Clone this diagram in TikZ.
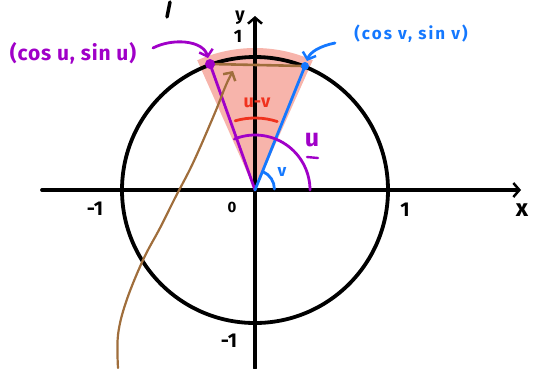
\documentclass[tikz,border=0pt]{standalone}
\usepackage{fontspec}
\setmainfont{Fira Sans}
\usetikzlibrary{arrows.meta,calc}
\definecolor{cpurple}{RGB}{160,0,200}
\definecolor{cblue}{RGB}{20,120,255}
\definecolor{cred}{RGB}{240,50,30}
\definecolor{cbrown}{RGB}{160,110,60}
\definecolor{cpink}{RGB}{246,172,162}
\newcommand{\fs}[1]{\fontsize{#1}{#1}\selectfont\bfseries}
\begin{document}
\begin{tikzpicture}[x=1pt,y=-1pt,
  axis/.style={line width=3.8pt,black,line cap=round},
  barb/.style={-{Straight Barb[length=6pt,width=14pt,line width=2.5pt]}},
  lab/.style={inner sep=0pt,font=\fs{20}},
  cline/.style={line width=2.8pt,line cap=round}]
\useasboundingbox (0,0) rectangle (534,368);
\coordinate (O) at (255,190);
\coordinate (U) at (210,64);
\coordinate (V) at (305,66);
% pink sector
\fill[cpink,opacity=0.9] (O) -- ($(O)+(-114:142)$) arc[start angle=-114,end angle=-66,radius=142] -- cycle;
% axes
\coordinate (xl) at (42,190);
\coordinate (xr) at (521,190);
\coordinate (yb) at (255,368);
\coordinate (yt) at (255,16);
\draw[axis,barb] (xl) -- (xr);
\draw[axis,barb] (yb) -- (yt);
% circle
\draw[axis] (O) circle[radius=133];
% stray mark
\coordinate (s1) at (170,2);
\coordinate (s2) at (167,17);
\draw[line width=3.5pt,line cap=round] (s1) -- (s2);
% radii
\draw[cline,cpurple] (O) -- (U);
\draw[cline,cblue] (O) -- (V);
% chord
\draw[cline,cbrown,line width=2.6pt] (U) -- (V);
% dots
\fill[cpurple] (U) circle[radius=5];
\fill[cblue] (V) circle[radius=4];
% angle arcs
\draw[cline,cpurple] ($(O)+(-112:55)$) arc[start angle=-112,end angle=0,radius=55];
\draw[cline,cred] ($(O)+(-106:72)$) arc[start angle=-106,end angle=-72,radius=72];
\draw[cline,cblue] ($(O)+(-66:20)$) arc[start angle=-66,end angle=0,radius=19];
% labels
\node[lab,font=\fs{18}] (ly) at (240,18) {y};
\node[lab,font=\fs{18}] (l1t) at (238,36) {1};
\node[lab] (lm1) at (95,209) {-1};
\node[lab,font=\fs{15}] (l0) at (232,207) {0};
\node[lab] (l1r) at (405,210) {1};
\node[lab,font=\fs{24}] (lx) at (522,210) {x};
\node[lab] (lm1b) at (229,341) {-1};
\node[lab,cred,font=\fs{18}] (luv) at (257,103) {u-v};
\node[lab,cpurple,font=\fs{25}] (lu) at (312,140) {u};
\coordinate (ul1) at (307,157);
\coordinate (ul2) at (318,158);
\draw[cline,cpurple,line width=2.4pt] (ul1) -- (ul2);
\node[lab,cblue,font=\fs{17}] (lv) at (282,172) {v};
\node[lab,cpurple,font=\fs{21}\addfontfeatures{LetterSpace=4}] (LU) at (73,53) {(cos u, sin u)};
\node[lab,cblue,font=\fs{17}\addfontfeatures{LetterSpace=12}] (LV) at (411,34) {(cos v, sin v)};
% pointer arrows
\draw[cline,cpurple,barb] (153,48) .. controls (172,38) and (203,40) .. (208,58);
\draw[cline,cblue,barb] (335,43) .. controls (320,46) and (310,52) .. (307,61);
% brown arrow
\draw[cline,cbrown,line width=2.2pt,barb] plot[smooth,tension=0.6] coordinates {(118,368) (118,335) (126,302) (143,260) (160,228) (175,198) (193,163) (214,115) (226,85) (233,71)};
\end{tikzpicture}
\end{document}
